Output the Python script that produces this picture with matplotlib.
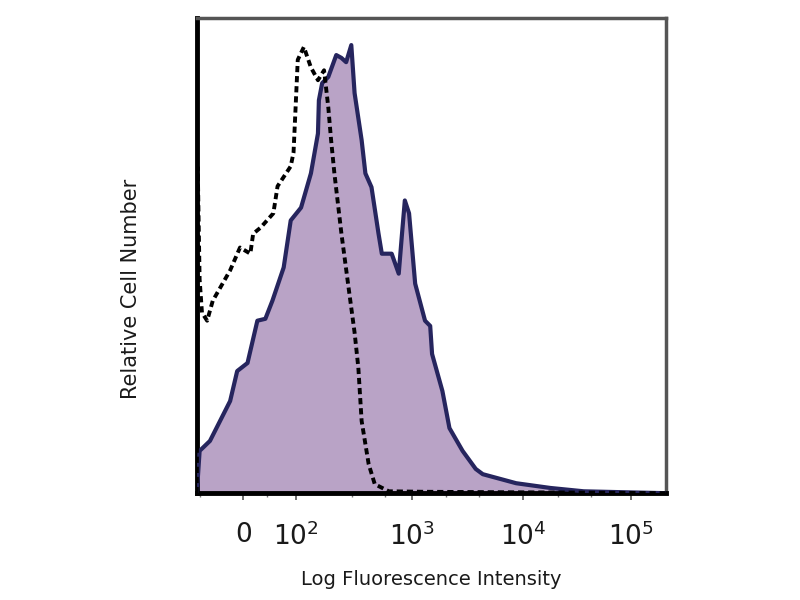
import matplotlib
matplotlib.use("Agg")
import matplotlib.pyplot as plt

# channel (0-1000 across the axis) vs relative cell count (0-100)
stain_x = [0, 6, 28, 71, 86, 108, 129, 146, 161, 185, 200, 222, 243, 258, 260, 267, 280,
           297, 308, 318, 329, 336, 351, 359, 372, 387, 394, 415, 430, 437, 443, 452,
           465, 486, 497, 501, 523, 538, 566, 594, 609, 680, 753, 824, 910, 1000]
stain_y = [0, 8.9, 11.0, 19.4, 25.7, 27.4, 36.3, 36.7, 40.5, 47.5, 57.4, 60.1, 67.3, 75.7,
           82.7, 86.3, 87.6, 92.2, 91.6, 90.7, 94.3, 84.2, 74.3, 67.3, 64.4, 54.6, 50.4,
           50.4, 46.2, 54.6, 61.6, 58.9, 44.1, 36.3, 35.2, 29.3, 21.5, 13.7, 8.9, 5.1,
           4.0, 2.1, 1.1, 0.4, 0.2, 0]

ctrl_x = [0, 2, 6, 11, 22, 34, 71, 92, 114, 120, 136, 163, 172, 200, 206, 215, 228, 243,
          258, 271, 280, 286, 293, 308, 323, 336, 344, 351, 366, 379, 409, 480, 652, 867, 1000]
ctrl_y = [0, 68.6, 45, 38, 36.3, 40.5, 46.9, 51.7, 50.4, 54.6, 55.9, 58.9, 64.6, 68.8,
          71.7, 91.2, 93.9, 89.6, 86.9, 89.0, 81.2, 74.3, 67.3, 54.6, 43.4, 33.8, 26.4,
          15.2, 6.1, 1.9, 0.4, 0.3, 0.2, 0.1, 0]

tick_pos = [99, 211, 458, 695, 925]
tick_labels = ['0', '$10^2$', '$10^3$', '$10^4$', '$10^5$']
minor_pos = [6, 150, 330, 400, 530, 600, 770, 840]

plt.rcParams['font.family'] = ['DejaVu Sans']
plt.rcParams['mathtext.default'] = 'regular'

fig = plt.figure(figsize=(8, 6), dpi=100)
ax = fig.add_axes([0.246, 0.178, 0.587, 0.792])

ax.fill_between(stain_x, stain_y, 0, color='#b9a3c6', zorder=1)
ax.plot(stain_x, stain_y, color='#26255e', linewidth=3, zorder=3)
ax.plot(ctrl_x, ctrl_y, color='black', linewidth=2.8, linestyle=(0, (1.6, 1.0)), zorder=4)

ax.set_xlim(0, 1000)
ax.set_ylim(0, 100)
ax.set_xticks(tick_pos)
ax.set_xticklabels(tick_labels, fontsize=19, color='#1a1a1a')
ax.set_xticks(minor_pos, minor=True)
ax.set_yticks([])
ax.tick_params(axis='x', which='major', direction='out', length=5, width=1.2, color='#555555', pad=16)
ax.tick_params(axis='x', which='minor', direction='out', length=3, width=1, color='#777777')

for s in ['top', 'right']:
    ax.spines[s].set_color('#555555')
    ax.spines[s].set_linewidth(2.5)
for s in ['left', 'bottom']:
    ax.spines[s].set_color('black')
    ax.spines[s].set_linewidth(3.5)

ax.set_xlabel('Log Fluorescence Intensity', fontsize=14, color='#1a1a1a', labelpad=14)
ax.set_ylabel('Relative Cell Number', fontsize=15, color='#1a1a1a')
ax.yaxis.set_label_coords(-0.118, 0.43)

plt.savefig('out.png', dpi=100)
